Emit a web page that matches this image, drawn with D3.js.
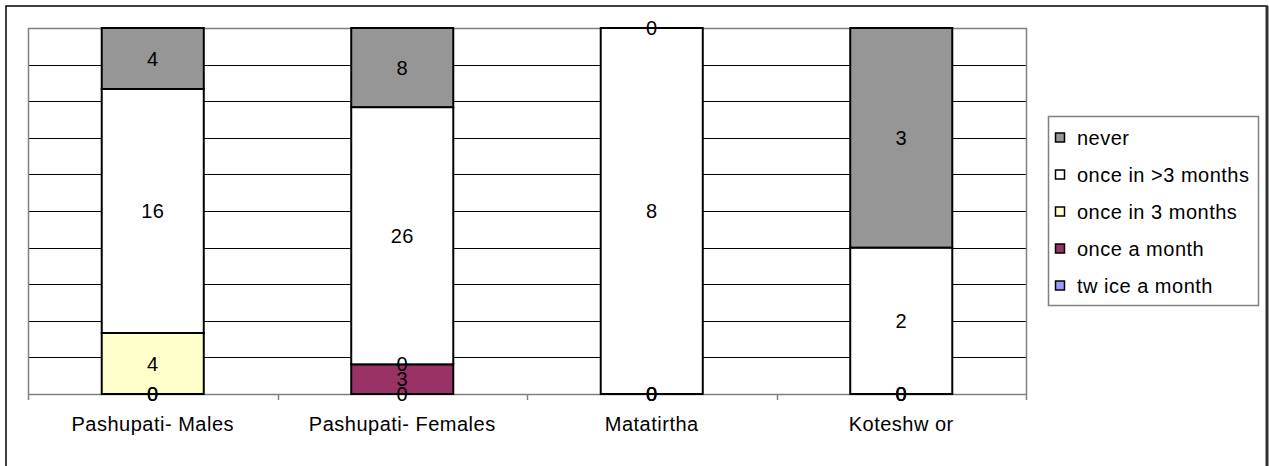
<!DOCTYPE html>
<html>
<head>
<meta charset="utf-8">
<script src="https://cdn.jsdelivr.net/npm/d3@7"></script>
<style>
  html, body { margin: 0; padding: 0; background: #fff; }
  svg { display: block; }
  text { font-family: "Liberation Sans", Arial, sans-serif; fill: #000; letter-spacing: 0.5px; }
</style>
</head>
<body>
<svg id="chart" width="1269" height="466"></svg>
<script>
// Visit frequency by site, stacked as share of respondents
const categories = ["Pashupati- Males", "Pashupati- Females", "Matatirtha", "Koteshw or"];
const seriesNames = ["twice a month", "once a month", "once in 3 months", "once in >3 months", "never"];
const legendLabels = ["never", "once in >3 months", "once in 3 months", "once a month", "tw ice a month"];
const twiceAMonth    = [0, 0, 0, 0];
const onceAMonth     = [0, 3, 0, 0];
const onceIn3Months  = [4, 0, 0, 0];
const onceInOver3    = [16, 26, 8, 2];
const never          = [4, 8, 0, 3];
const seriesColors = ["#9999FF", "#993366", "#FFFFCC", "#FFFFFF", "#969696"];
const gridTicks = [0, 0.1, 0.2, 0.3, 0.4, 0.5, 0.6, 0.7, 0.8, 0.9, 1];

const seriesValues = [twiceAMonth, onceAMonth, onceIn3Months, onceInOver3, never];
const rows = categories.map((c, i) => {
  const r = { category: c };
  seriesNames.forEach((s, j) => { r[s] = seriesValues[j][i]; });
  return r;
});

const FONT = 20;
const svg = d3.select("#chart");
const plot = { left: 28, right: 1026, top: 28, bottom: 394 };

const x = d3.scaleBand().domain(categories)
  .range([plot.left, plot.right]).paddingInner(0.591).paddingOuter(0.2955);
const y = d3.scaleLinear().domain([0, 1]).range([plot.bottom, plot.top]);
const color = d3.scaleOrdinal().domain(seriesNames).range(seriesColors);

const stacked = d3.stack().keys(seriesNames).offset(d3.stackOffsetExpand)(rows);

// outer frame
svg.append("rect").attr("x", 6).attr("y", 6).attr("width", 1261).attr("height", 480)
  .attr("fill", "#fff").attr("stroke", "#000").attr("stroke-width", 1.5);
svg.append("line").attr("x1", 1267).attr("x2", 1267).attr("y1", 6).attr("y2", 466)
  .attr("stroke", "#333").attr("stroke-width", 3);

// horizontal gridlines
svg.append("g").selectAll("line").data(gridTicks.filter(t => t > 0 && t < 1)).join("line")
  .attr("x1", plot.left).attr("x2", plot.right)
  .attr("y1", d => Math.round(y(d)) + 0.5).attr("y2", d => Math.round(y(d)) + 0.5)
  .attr("stroke", "#000").attr("stroke-width", 1);

// plot area border (top, left, right)
svg.append("path")
  .attr("d", `M${plot.left + 0.5},${plot.bottom}V${plot.top + 0.5}H${plot.right + 0.5}V${plot.bottom}`)
  .attr("fill", "none").attr("stroke", "#808080").attr("stroke-width", 1.5);

// category axis
const xAxis = d3.axisBottom(x).tickSize(0).tickPadding(0).tickFormat(d => d);
const axisG = svg.append("g").attr("transform", `translate(0,${plot.bottom})`).call(xAxis);
axisG.select(".domain").remove();
axisG.selectAll("text")
  .attr("font-size", FONT).attr("dy", null).attr("y", 37)
  .style("font-family", '"Liberation Sans", Arial, sans-serif');
svg.append("line").attr("x1", plot.left).attr("x2", plot.right)
  .attr("y1", plot.bottom + 0.5).attr("y2", plot.bottom + 0.5)
  .attr("stroke", "#808080").attr("stroke-width", 1.5);
const boundaries = categories.map(c => x(c) - x.step() * x.paddingOuter()).concat([plot.right]);
svg.append("g").selectAll("line").data(boundaries).join("line")
  .attr("x1", d => Math.round(d) + 0.5).attr("x2", d => Math.round(d) + 0.5)
  .attr("y1", plot.bottom).attr("y2", plot.bottom + 6)
  .attr("stroke", "#808080").attr("stroke-width", 1.5);

// stacked segments
const layers = svg.append("g").selectAll("g").data(stacked).join("g")
  .attr("fill", d => color(d.key));
layers.selectAll("rect").data(d => d).join("rect")
  .attr("x", d => x(d.data.category))
  .attr("width", x.bandwidth())
  .attr("y", d => y(d[1]))
  .attr("height", d => y(d[0]) - y(d[1]))
  .attr("stroke", "#000").attr("stroke-width", 2);

// data labels
const labels = svg.append("g");
stacked.forEach(layer => {
  layer.forEach(d => {
    labels.append("text")
      .attr("x", x(d.data.category) + x.bandwidth() / 2)
      .attr("y", (y(d[0]) + y(d[1])) / 2)
      .attr("text-anchor", "middle").attr("dominant-baseline", "central")
      .attr("font-size", FONT)
      .text(d.data[layer.key]);
  });
});

// legend
const legendOrder = seriesNames.slice().reverse();
const lg = svg.append("g");
lg.append("rect").attr("x", 1048.5).attr("y", 116.5).attr("width", 210).attr("height", 189)
  .attr("fill", "#fff").attr("stroke", "#808080").attr("stroke-width", 1.5);
const item = lg.selectAll("g.item").data(legendOrder).join("g").attr("class", "item")
  .attr("transform", (d, i) => `translate(0,${137.5 + i * 37})`);
item.append("rect").attr("x", 1055.5).attr("y", -4.5).attr("width", 9).attr("height", 9)
  .attr("fill", d => color(d)).attr("stroke", "#000").attr("stroke-width", 1.5);
item.append("text").attr("x", 1077).attr("y", 0).attr("dominant-baseline", "central")
  .attr("font-size", FONT).text((d, i) => legendLabels[i]);
</script>
</body>
</html>
